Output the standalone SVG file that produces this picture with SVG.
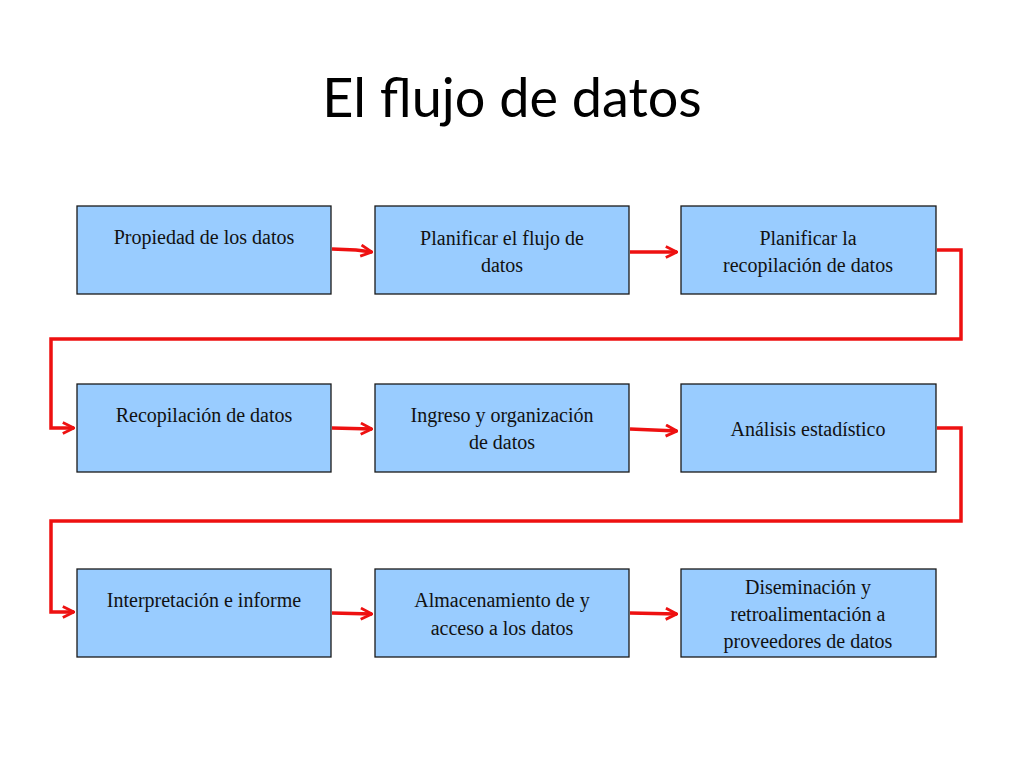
<svg xmlns="http://www.w3.org/2000/svg" width="1024" height="768" viewBox="0 0 1024 768">
<style>
.n rect{fill:#99CCFF;stroke:#1a1a1a;stroke-width:1.3}
.n text{font-family:"Liberation Serif",serif;font-size:20px;fill:#111;text-anchor:middle}
.c path{fill:none;stroke:#EE1111;stroke-width:3.5}
</style>
<defs><marker id="a" viewBox="0 0 10 10" refX="9" refY="5" markerWidth="4" markerHeight="4" orient="auto" markerUnits="strokeWidth"><path d="M1,1 L9,5 L1,9" fill="none" stroke="#EE1111" stroke-width="2"/></marker></defs>
<rect width="1024" height="768" fill="#fff"/>
<text x="512" y="117" font-family="Lato,'Open Sans',sans-serif" font-size="54" text-anchor="middle" fill="#000">El flujo de datos</text>
<g id="n1" class="n"><rect x="77" y="206" width="254" height="88"/><text x="204" y="244">Propiedad de los datos</text></g>
<g id="n2" class="n"><rect x="375" y="206" width="254" height="88"/><text x="502" y="245">Planificar el flujo de</text><text x="502" y="272">datos</text></g>
<g id="n3" class="n"><rect x="681" y="206" width="255" height="88"/><text x="808" y="245">Planificar la</text><text x="808" y="272">recopilación  de datos</text></g>
<g id="n4" class="n"><rect x="77" y="384" width="254" height="88"/><text x="204" y="422">Recopilación de datos</text></g>
<g id="n5" class="n"><rect x="375" y="384" width="254" height="88"/><text x="502" y="422">Ingreso y organización</text><text x="502" y="449">de datos</text></g>
<g id="n6" class="n"><rect x="681" y="384" width="255" height="88"/><text x="808" y="436">Análisis estadístico</text></g>
<g id="n7" class="n"><rect x="77" y="569" width="254" height="88"/><text x="204" y="607">Interpretación e informe</text></g>
<g id="n8" class="n"><rect x="375" y="569" width="254" height="88"/><text x="502" y="607">Almacenamiento de y</text><text x="502" y="635">acceso a los datos</text></g>
<g id="n9" class="n"><rect x="681" y="569" width="255" height="88"/><text x="808" y="594">Diseminación y</text><text x="808" y="621">retroalimentación a</text><text x="808" y="648">proveedores de datos</text></g>
<g id="connectors" class="c">
<path d="M332,249 L356,250 L372,252" marker-end="url(#a)"/>
<path d="M630,252 L677,252" marker-end="url(#a)"/>
<path d="M937,250 H961 V339 H51 V428 H74" marker-end="url(#a)"/>
<path d="M332,428 L372,429" marker-end="url(#a)"/>
<path d="M630,429 L677,431" marker-end="url(#a)"/>
<path d="M937,428 H961 V521 H51 V612 H74" marker-end="url(#a)"/>
<path d="M332,613 L372,614" marker-end="url(#a)"/>
<path d="M630,613 L677,614" marker-end="url(#a)"/>
</g>
</svg>
